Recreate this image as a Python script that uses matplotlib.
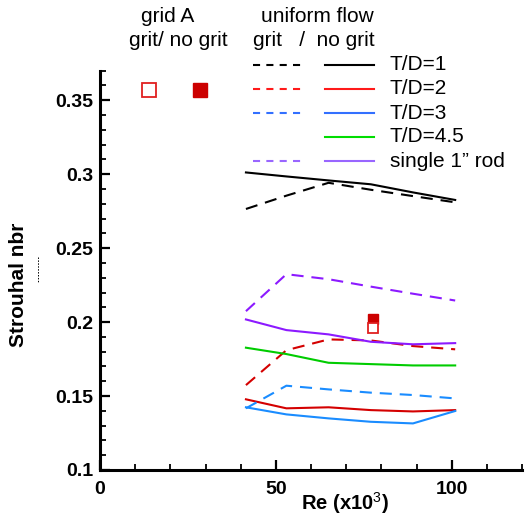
import matplotlib
matplotlib.use('Agg')
import matplotlib.pyplot as plt
from matplotlib.ticker import MultipleLocator, FormatStrFormatter

plt.rcParams['font.family'] = ['Liberation Sans', 'DejaVu Sans']
plt.rcParams['mathtext.fontset'] = 'custom'
plt.rcParams['mathtext.rm'] = 'Liberation Sans'
plt.rcParams['mathtext.bf'] = 'Liberation Sans:bold'

# Reynolds number (x10^3)
re = [41.5, 53, 65, 77, 89, 101]

# uniform flow, grit (dashed) / no grit (solid)
td1_grit = [0.2765, 0.2855, 0.2942, 0.2895, 0.2852, 0.2810]
td1_nogrit = [0.3012, 0.2985, 0.2958, 0.2932, 0.2877, 0.2826]
td2_grit = [0.1574, 0.1810, 0.1883, 0.1876, 0.1838, 0.1816]
td2_nogrit = [0.1478, 0.1417, 0.1424, 0.1405, 0.1396, 0.1405]
td3_grit = [0.1417, 0.1570, 0.1545, 0.1523, 0.1507, 0.1484]
td3_nogrit = [0.1424, 0.1376, 0.1349, 0.1326, 0.1315, 0.1399]
td45_nogrit = [0.1827, 0.1784, 0.1725, 0.1716, 0.1707, 0.1707]
rod_grit = [0.2074, 0.2324, 0.2290, 0.2240, 0.2192, 0.2146]
rod_nogrit = [0.2018, 0.1946, 0.1917, 0.1867, 0.1850, 0.1858]

# grid A points
gridA_re = [77.5]
gridA_grit = [0.1963]
gridA_nogrit = [0.2022]
gridA_key_x = [13.9, 28.4]
gridA_key_y = 0.3568

labels = ['T/D=1', 'T/D=2', 'T/D=3', 'T/D=4.5', 'single 1\u201d rod']
plot_cols = ['black', '#d40000', '#1a8cff', '#00cc00', '#8c1aff']
key_cols = ['black', '#ff1a1a', '#3370ff', '#00dd00', '#9966ff']
has_grit = [True, True, True, False, True]

fig = plt.figure(figsize=(5.26, 5.19), dpi=100)
ax = fig.add_axes([100 / 526, 1 - 470 / 519, 422 / 526, (470 - 70.7) / 519])

grit = [td1_grit, td2_grit, td3_grit, None, rod_grit]
nogrit = [td1_nogrit, td2_nogrit, td3_nogrit, td45_nogrit, rod_nogrit]
for g, n, c in zip(grit, nogrit, plot_cols):
    if g is not None:
        ax.plot(re, g, color=c, lw=1.5, dashes=(5.8, 3.8))
    ax.plot(re, n, color=c, lw=1.5)

ax.plot(gridA_re, gridA_nogrit, 's', ms=7.2, color='#cc0000', mec='#cc0000')
ax.plot(gridA_re, gridA_grit, 's', ms=7.2, mfc='white', mec='#e02020', mew=1.3)
ax.plot(gridA_key_x[0], gridA_key_y, 's', ms=9.4, mfc='white', mec='#e02020', mew=1.3, clip_on=False)
ax.plot(gridA_key_x[1], gridA_key_y, 's', ms=9.4, color='#cc0000', clip_on=False)

ax.set_xlim(0, 120)
ax.set_ylim(0.1, 0.37)
ax.xaxis.set_major_locator(MultipleLocator(50))
ax.xaxis.set_minor_locator(MultipleLocator(10))
ax.yaxis.set_major_locator(MultipleLocator(0.05))
ax.yaxis.set_minor_locator(MultipleLocator(0.01))
ax.yaxis.set_major_formatter(FormatStrFormatter('%g'))
ax.spines['top'].set_visible(False)
ax.spines['right'].set_visible(False)
for s in ['left', 'bottom']:
    ax.spines[s].set_linewidth(2.2)
ax.tick_params(which='major', direction='in', length=7, width=1.6, labelsize=14)
ax.tick_params(which='minor', direction='in', length=4.5, width=1.3)
ax.tick_params(axis='y', pad=5)
ax.tick_params(axis='x', pad=8)
for t in ax.get_xticklabels() + ax.get_yticklabels():
    t.set_fontweight('bold')

# overlay in pixel coordinates for labels and key
ov = fig.add_axes([0, 0, 1, 1])
ov.set_xlim(0, 526)
ov.set_ylim(519, 0)
ov.axis('off')
ov.patch.set_alpha(0)

ov.text(18.5, 285, 'Strouhal nbr', rotation=90, ha='center', va='center',
        fontsize=15, fontweight='bold')
ov.plot([38.3, 38.3], [257, 283], color='black', lw=0.7, dashes=(1.5, 1.5))
ov.text(345, 503, 'Re (x10$^{\\mathrm{3}}$)', ha='center', va='center',
        fontsize=14.5, fontweight='bold')

ov.text(168, 17, 'grid A', ha='center', va='center', fontsize=15)
ov.text(178.5, 41, 'grit/ no grit', ha='center', va='center', fontsize=15)
ov.text(317, 17, 'uniform flow', ha='center', va='center', fontsize=15)
ov.text(313.5, 41, 'grit   /  no grit', ha='center', va='center', fontsize=15)

rows = [65, 89, 113.3, 137, 161.3]
for lab, c, hg, y in zip(labels, key_cols, has_grit, rows):
    if hg:
        ov.plot([253, 302], [y, y], color=c, lw=1.5, dashes=(3.4, 3.0))
    ov.plot([325, 374], [y, y], color=c, lw=1.5)
    ov.text(390, y, lab, ha='left', va='center', fontsize=15)

fig.savefig('out.png', dpi=100)
